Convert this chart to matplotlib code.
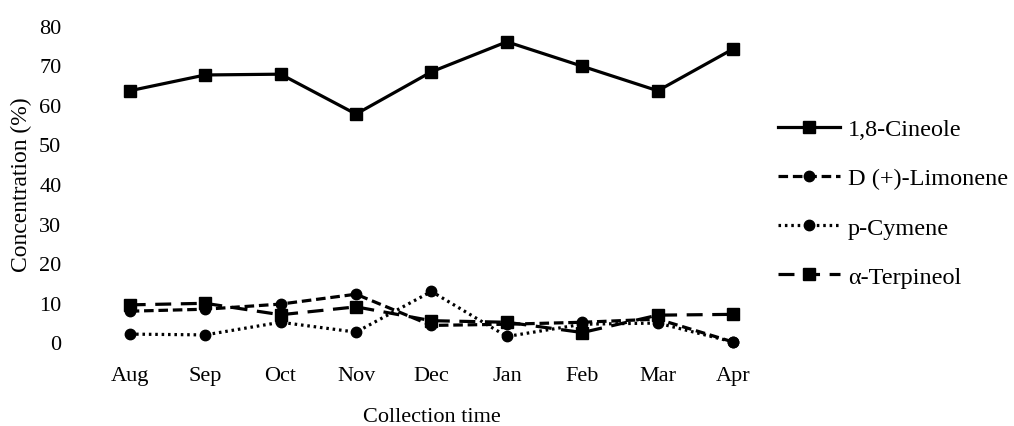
import matplotlib
matplotlib.use('Agg')
import matplotlib.pyplot as plt

from matplotlib import rcParams

# Serif text, black everywhere
rcParams['font.family'] = ['Liberation Serif', 'DejaVu Serif']
rcParams['text.color'] = 'black'
rcParams['xtick.color'] = 'black'
rcParams['ytick.color'] = 'black'

# Data
months = ['Aug', 'Sep', 'Oct', 'Nov', 'Dec', 'Jan', 'Feb', 'Mar', 'Apr']
cineole = [63.6, 67.6, 67.8, 57.7, 68.4, 76.0, 69.8, 63.6, 74.2]
limonene = [7.8, 8.3, 9.6, 12.1, 4.2, 4.5, 5.0, 5.8, 0.0]
p_cymene = [2.0, 1.8, 5.0, 2.5, 12.8, 1.4, 4.5, 4.8, 0.0]
terpineol = [9.4, 9.8, 6.9, 8.9, 5.4, 5.0, 2.4, 6.8, 7.0]
y_ticks = [0, 10, 20, 30, 40, 50, 60, 70, 80]

fig = plt.figure(figsize=(10.14, 4.27), dpi=100)
ax = fig.add_axes([0.0907, 0.1967, 0.6696, 0.7401])

x = list(range(len(months)))

ax.plot(x, cineole, color='black', linewidth=2.3, linestyle='-',
        marker='s', markersize=9, label='1,8-Cineole', clip_on=False)
ax.plot(x, limonene, color='black', linewidth=2.3, linestyle=(0, (3, 1.5)),
        marker='o', markersize=7.5, label='D (+)-Limonene', clip_on=False)
ax.plot(x, p_cymene, color='black', linewidth=2.3, linestyle=(0, (0.8, 1.2)),
        marker='o', markersize=7.5, label='p-Cymene', clip_on=False)
ax.plot(x, terpineol, color='black', linewidth=2.3, linestyle=(0, (5, 3)),
        marker='s', markersize=9, label='\u03b1-Terpineol', clip_on=False)

ax.set_xlim(-0.5, len(months) - 0.5)
ax.set_ylim(0, 80)
ax.set_xticks(x, months)
ax.set_yticks(y_ticks)
ax.tick_params(axis='both', length=0, labelsize=16)
ax.tick_params(axis='y', pad=22)
ax.tick_params(axis='x', pad=17)

for side in ['top', 'bottom', 'left', 'right']:
    ax.spines[side].set_visible(False)

ax.set_ylabel('Concentration (%)', fontsize=17, labelpad=5)
ax.set_xlabel('Collection time', fontsize=16, labelpad=16)

fig.legend(loc='center left', bbox_to_anchor=(0.767, 0.522), frameon=False,
           fontsize=17.5, handlelength=2.55, handletextpad=0.33,
           labelspacing=1.12, borderaxespad=0, borderpad=0)

fig.savefig('out.png', dpi=100)
